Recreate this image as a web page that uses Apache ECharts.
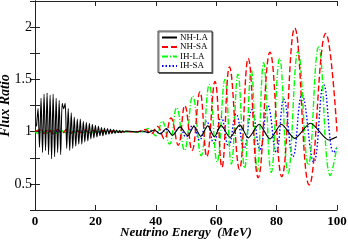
<!DOCTYPE html>
<html><head><meta charset="utf-8">
<script src="https://cdn.jsdelivr.net/npm/echarts@6/dist/echarts.min.js"></script>
<style>html,body{margin:0;padding:0;background:#fff}#c{width:348px;height:242px}</style>
</head><body><div id="c"></div>
<script>
const seriesNames = ['NH-LA', 'NH-SA', 'IH-LA', 'IH-SA'];
const xTicks = [0, 20, 40, 60, 80, 100];
const yTickLabels = [0.5, 1, 1.5, 2];

const nhLA = [
 [0.5,1.05],[1,1.22],[1.5,0.85],[2,1.32],[2.5,0.80],[3,1.36],[3.5,0.82],[4,1.37],[4.5,0.78],[5,1.35],
 [5.5,0.74],[6,1.36],[6.5,0.76],[7,1.32],[7.5,0.80],[8,1.30],[8.5,0.78],[9,1.27],[9.5,1.22],[10,1.27],
 [10.5,0.84],[11,1.22],[11.5,0.82],[12,1.18],[12.5,0.84],[13,1.14],[13.5,0.86],[14,1.12],[14.5,0.88],[15,1.12],
 [15.5,0.88],[16,1.10],[16.5,0.90],[17,1.09],[17.5,0.91],[18,1.08],[18.5,0.93],[19,1.07],[19.5,0.94],[20,1.06],
 [20.5,0.95],[21,1.05],[21.5,0.96],[22,1.04],[22.5,0.96],[23,1.035],[23.5,0.97],[24,1.03],[24.5,0.975],[25,1.025],
 [25.5,0.98],[26,1.02],[26.5,0.985],[27,1.015],[27.5,0.99],[28,1.01],[28.5,0.99],[29,1.008],[29.5,0.995],[30,1.005],
 [31.5,1.003],[33.5,0.996],[35.5,1.006],[37.5,0.99],[39.5,1.015],[41.5,0.978],[43.5,1.03],
 [45.5,0.965],[48,1.045],[50.6,0.96],[52.6,1.05],[54.9,0.955],[57.2,1.055],[59.4,0.95],
 [61.6,1.06],[64.6,0.945],[67.8,1.065],[70.6,0.94],[74.2,1.07],[77.8,0.93],[81.6,1.07],
 [86,0.935],[91.2,1.08],[97.3,0.92],[100,0.95]
];
const nhSA = [
 [0,1.0],[1.5,1.015],[3,0.985],[4.5,1.02],[6,0.98],[7.5,1.02],[9,0.985],[10.5,1.02],[12,0.985],[13.5,1.015],
 [15,0.99],[16.5,1.015],[18,0.99],[19.5,1.012],[21,0.99],[22.5,1.01],[24,0.992],[26,1.008],[28,0.995],[30,1.003],
 [32,0.998],[34,1.0],[36.5,1.02],[38.5,0.98],[40.5,1.05],[42.8,0.93],[45,1.13],[47.4,0.87],[49.6,1.25],[52,0.82],
 [54.6,1.38],[56.9,0.76],[59.6,1.48],[61.9,0.66],[64.4,1.62],[67.7,0.64],[70.6,1.70],[73.9,0.56],[77.8,1.76],
 [81.7,0.57],[86,1.99],[90.8,0.49],[96.3,1.94],[100,1.0]
];
const ihLA = [
 [0,1.0],[1,0.985],[2.5,1.015],[4,0.985],[5.5,1.015],[7,0.985],[8.5,1.015],[10,0.99],[11.5,1.015],[13,0.99],
 [14.5,1.012],[16,0.99],[17.5,1.01],[19,0.992],[20.5,1.01],[22,0.993],[24,1.008],[26,0.995],[28,1.005],[30,0.998],
 [33,1.0],[35.5,0.99],[37.5,1.03],[40,0.96],[42.1,1.10],[44.5,0.88],[46.9,1.23],[49.5,0.82],[52.2,1.34],[55,0.77],
 [57.7,1.45],[60.3,0.71],[62.9,1.50],[65,0.69],[67.2,1.55],[69.4,0.65],[71.6,1.59],[73.6,0.62],[75.7,1.66],
 [78.2,0.61],[81,1.70],[83.8,0.60],[87.1,1.77],[90.5,0.68],[93.9,1.81],[97.8,0.58],[100,0.86]
];
const ihSA = [
 [0,1.0],[5,1.005],[10,0.995],[15,1.005],[20,0.997],[25,1.003],[30,1.0],[36,1.0],[39.5,1.01],[41.5,0.985],
 [43.5,1.02],[45.6,0.97],[47.8,1.04],[50,0.95],[52.2,1.06],[54.5,0.92],[56.8,1.10],[59.2,0.89],[61.6,1.14],
 [64.1,0.86],[66.6,1.17],[69.2,0.84],[71.8,1.21],[74.5,0.83],[77.1,1.25],[79.9,0.80],[82.4,1.31],[85.4,0.76],
 [88.4,1.35],[92.3,0.71],[95.6,1.45],[98.9,0.80],[100,0.85]
];

const colors = ['#000000', '#ff0000', '#00ff00', '#0000ff'];
const dashes = ['solid', [6, 3], [6, 2, 1, 2], [1.5, 2]];
const datasets = [nhLA, nhSA, ihLA, ihSA];
const serif = '"Liberation Serif", "DejaVu Serif", serif';

const chart = echarts.init(document.getElementById('c'), null, {renderer: 'canvas'});
const axisLineStyle = {color: '#222', width: 1};
chart.setOption({
  animation: false,
  backgroundColor: '#fff',
  grid: {left: 35, right: 11, top: 1, bottom: 32, containLabel: false, outerBoundsMode: 'none'},
  legend: {
    orient: 'vertical', left: 158, top: 31,
    data: seriesNames,
    itemWidth: 15, itemHeight: 8, itemGap: 0.5,
    padding: [2, 4, 2, 3],
    backgroundColor: '#fff', borderColor: '#444', borderWidth: 1,
    shadowColor: 'rgba(0,0,0,0.5)', shadowOffsetX: 1, shadowOffsetY: 1,
    itemStyle: {opacity: 0},
    textStyle: {fontFamily: serif, fontSize: 9, color: '#000', lineHeight: 9, padding: [0,0,0,-2]}
  },
  xAxis: [{
    type: 'value', min: 0, max: 100, interval: 20,
    name: 'Neutrino Energy  (MeV)', nameLocation: 'middle', nameGap: 16, nameMoveOverlap: false,
    nameTextStyle: {fontFamily: serif, fontSize: 13, fontWeight: 'bold', fontStyle: 'italic', color: '#000'},
    axisLine: {lineStyle: axisLineStyle},
    axisTick: {inside: true, length: 5, lineStyle: axisLineStyle},
    axisLabel: {fontFamily: serif, fontSize: 13, fontWeight: 'bold', color: '#000', margin: 5,
      formatter: v => xTicks.includes(v) ? String(v) : ''},
    splitLine: {show: false}
  }, {
    type: 'value', min: 0, max: 100, interval: 20, position: 'top',
    axisLine: {lineStyle: axisLineStyle},
    axisTick: {inside: true, length: 5, lineStyle: axisLineStyle},
    axisLabel: {show: false}, splitLine: {show: false}
  }],
  yAxis: [{
    type: 'value', min: 0.25, max: 2.25, interval: 0.25,
    name: 'Flux Ratio', nameLocation: 'middle', nameGap: 23, nameRotate: 90, nameMoveOverlap: false,
    nameTextStyle: {fontFamily: serif, fontSize: 14, fontWeight: 'bold', fontStyle: 'italic', color: '#000'},
    axisLine: {show: true, lineStyle: axisLineStyle},
    axisTick: {show: true, inside: true, length: 5, lineStyle: axisLineStyle},
    axisLabel: {fontFamily: serif, fontSize: 14, color: '#000', margin: 3,
      formatter: v => yTickLabels.some(t => Math.abs(t - v) < 1e-6) ? String(v) : ''},
    splitLine: {show: false}
  }, {
    type: 'value', min: 0.25, max: 2.25, interval: 0.25, position: 'right',
    axisLine: {show: true, lineStyle: axisLineStyle},
    axisTick: {show: true, inside: true, length: 5, lineStyle: axisLineStyle},
    axisLabel: {show: false}, splitLine: {show: false}
  }],
  series: datasets.map((d, i) => ({
    name: seriesNames[i], type: 'line', data: d, xAxisIndex: 0, yAxisIndex: 0,
    symbol: 'none', smooth: i === 0 ? 0.25 : 0.45,
    z: 10 - i,
    lineStyle: {color: colors[i], width: i === 0 ? 1.1 : 1.4, type: dashes[i]},
    itemStyle: {color: colors[i]}
  })).reverse()
});
</script></body></html>
